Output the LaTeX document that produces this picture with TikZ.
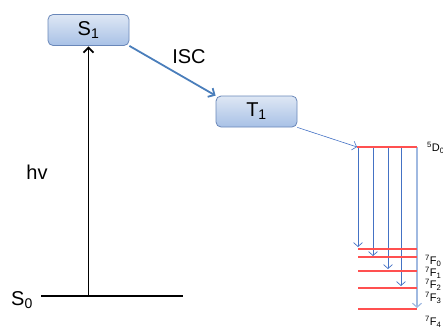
\documentclass[tikz,border=0pt]{standalone}
\usepackage{fontspec}
\setmainfont{Liberation Sans}
\usetikzlibrary{arrows.meta}
\definecolor{boxtop}{RGB}{222,231,244}
\definecolor{boxbot}{RGB}{168,193,230}
\definecolor{boxborder}{RGB}{105,135,185}
\definecolor{iscblue}{RGB}{74,126,187}
\definecolor{emblue}{RGB}{68,114,196}
\definecolor{emlight}{RGB}{160,185,225}
\definecolor{lvlred}{RGB}{255,80,80}
\begin{document}
\begin{tikzpicture}[x=1pt,y=-1pt,
  font=\fontsize{20}{24}\selectfont,
  statebox/.style={draw=boxborder, line width=0.8pt, rounded corners=5pt,
    top color=boxtop, bottom color=boxbot,
    minimum width=81pt, minimum height=31pt, inner sep=0pt},
  redlvl/.style={draw=lvlred, line width=2pt},
  emis/.style={draw=emblue, line width=0.7pt, -{Straight Barb[length=4pt,width=9pt]}},
  smalllab/.style={font=\fontsize{11}{13}\selectfont, anchor=west, inner sep=0pt},
  biglab/.style={inner sep=0pt}
]
\useasboundingbox (0,0) rectangle (443,327);
% state boxes
\node[statebox] (s1) at (88.5,30) {S\textsubscript{1}};
\node[statebox] (t1) at (256.5,111.5) {T\textsubscript{1}};
% ground state
\coordinate (s0l) at (41,296);
\coordinate (s0r) at (183,296);
\coordinate (s0m) at (88.5,296);
\draw[line width=2pt] (s0l) -- (s0r);
\node[biglab] (s0lab) at (22,300) {S\textsubscript{0}};
% absorption
\draw[line width=1.8pt, shorten >=0.5pt, -{Straight Barb[length=5pt,width=10pt]}] (s0m) -- (s1.south);
\node[biglab] (hv) at (37,172) {hv};
% ISC
\draw[draw=iscblue, line width=1.8pt, -{Straight Barb[length=5pt,width=10pt]}] (s1.south east) -- (t1.north west);
\node[biglab] (isc) at (189,57) {ISC};
% energy transfer
\coordinate (d0l) at (357,147);
\coordinate (d0r) at (417,147);
\draw[draw=emblue, line width=0.6pt, -{Straight Barb[length=4pt,width=9pt]}] (t1.south east) -- (d0l);
% emission lines
\coordinate (e1t) at (358,147); \coordinate (e1b) at (358,247);
\coordinate (e2t) at (373,147); \coordinate (e2b) at (373,256);
\coordinate (e3t) at (388,147); \coordinate (e3b) at (388,269);
\coordinate (e4t) at (401,147); \coordinate (e4b) at (401,286);
\coordinate (e5t) at (417,147); \coordinate (e5b) at (417,308);
\draw[emis] (e1t) -- (e1b);
\draw[emis] (e2t) -- (e2b);
\draw[emis] (e3t) -- (e3b);
\draw[emis] (e4t) -- (e4b);
\draw[emis, draw=emlight, line width=1.2pt] (e5t) -- (e5b);
% levels
\coordinate (f0l) at (358,249); \coordinate (f0r) at (417,249);
\coordinate (f1l) at (358,257); \coordinate (f1r) at (417,257);
\coordinate (f2l) at (358,271); \coordinate (f2r) at (417,271);
\coordinate (f3l) at (358,288); \coordinate (f3r) at (417,288);
\coordinate (f4l) at (358,309); \coordinate (f4r) at (417,309);
\draw[redlvl] (d0l) -- (d0r);
\draw[redlvl] (f0l) -- (f0r);
\draw[redlvl] (f1l) -- (f1r);
\draw[redlvl] (f2l) -- (f2r);
\draw[redlvl] (f3l) -- (f3r);
\draw[redlvl] (f4l) -- (f4r);
% labels
\node[smalllab] (ld0) at (427,148) {\textsuperscript{5}D\textsubscript{0}};
\node[smalllab] (lf0) at (425,261) {\textsuperscript{7}F\textsubscript{0}};
\node[smalllab] (lf1) at (425,273) {\textsuperscript{7}F\textsubscript{1}};
\node[smalllab] (lf2) at (425,285) {\textsuperscript{7}F\textsubscript{2}};
\node[smalllab] (lf3) at (425,298) {\textsuperscript{7}F\textsubscript{3}};
\node[smalllab] (lf4) at (425,322) {\textsuperscript{7}F\textsubscript{4}};
\end{tikzpicture}
\end{document}
